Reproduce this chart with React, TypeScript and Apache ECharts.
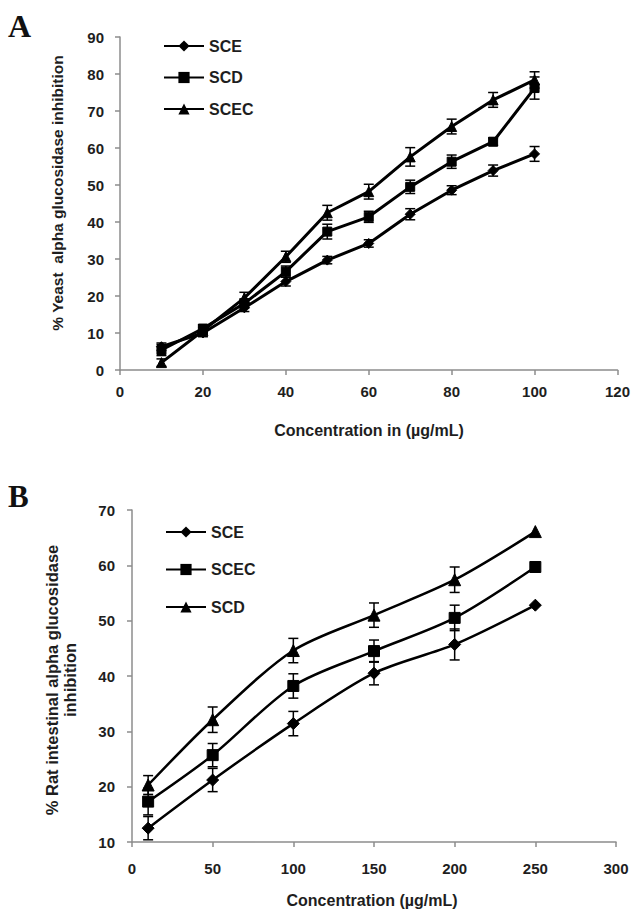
import React, { useEffect, useRef } from "react";
import * as echarts from "echarts";

// Panel A
const xA = [10, 20, 30, 40, 50, 60, 70, 80, 90, 100];
const aSCE = [6.3, 10.0, 16.8, 23.9, 29.7, 34.2, 42.1, 48.6, 53.9, 58.4];
const aSCD = [5.4, 11.2, 18.0, 26.6, 37.4, 41.4, 49.5, 56.3, 61.7, 76.2];
const aSCEC = [2.0, 10.6, 19.5, 30.6, 42.5, 48.2, 57.6, 65.8, 73.0, 78.4];
const aSCEErr = [1.0, 1.0, 1.0, 1.2, 1.0, 1.0, 1.5, 1.2, 1.5, 2.0];
const aSCDErr = [1.5, 1.0, 1.2, 1.5, 2.0, 1.5, 1.8, 1.8, 1.0, 3.0];
const aSCECErr = [1.0, 1.0, 1.5, 1.5, 2.0, 2.0, 2.5, 2.0, 2.0, 2.2];

// Panel B
const xB = [10, 50, 100, 150, 200, 250];
const bSCE = [12.5, 21.2, 31.4, 40.5, 45.7, 52.8];
const bSCEC = [17.3, 25.7, 38.2, 44.5, 50.5, 59.7];
const bSCD = [20.3, 32.1, 44.6, 51.0, 57.4, 66.1];
const bSCEErr = [2.1, 2.1, 2.2, 2.1, 2.8, 0];
const bSCECErr = [2.4, 2.1, 2.2, 2.0, 2.3, 0];
const bSCDErr = [1.7, 2.3, 2.2, 2.2, 2.3, 0];

const FONT = "'Liberation Sans', Arial, sans-serif";
const AXIS_COLOR = "#8c8c8c";
const TEXT_COLOR = "#1e1e1e";

function pts(xs: number[], ys: number[]) {
  return xs.map((x, i) => [x, ys[i]]);
}
function errs(xs: number[], ys: number[], es: number[]) {
  return xs.map((x, i) => [x, ys[i] - es[i], ys[i] + es[i]]);
}

function errorSeries(name: string, data: number[][], gi: number) {
  return {
    type: "custom",
    name,
    xAxisIndex: gi,
    yAxisIndex: gi,
    encode: { x: 0, y: [1, 2] },
    z: 3,
    data,
    renderItem: (params: any, api: any) => {
      const x = api.value(0);
      const lo = api.value(1);
      const hi = api.value(2);
      if (hi - lo < 0.01) return null;
      const p1 = api.coord([x, lo]);
      const p2 = api.coord([x, hi]);
      const w = 5;
      const st = { stroke: "#000", lineWidth: 1.5 };
      return {
        type: "group",
        children: [
          { type: "line", shape: { x1: p1[0], y1: p1[1], x2: p2[0], y2: p2[1] }, style: st },
          { type: "line", shape: { x1: p1[0] - w, y1: p1[1], x2: p1[0] + w, y2: p1[1] }, style: st },
          { type: "line", shape: { x1: p2[0] - w, y1: p2[1], x2: p2[0] + w, y2: p2[1] }, style: st },
        ],
      };
    },
  };
}

function lineSeries(name: string, data: number[][], gi: number, symbol: string, size: number, smooth: any, width: number) {
  return {
    type: "line",
    name,
    xAxisIndex: gi,
    yAxisIndex: gi,
    data,
    symbol,
    symbolSize: size,
    smooth,
    z: 4,
    lineStyle: { color: "#000", width },
    itemStyle: { color: "#000", borderColor: "#000" },
  };
}

function valueAxis(gi: number, min: number, max: number, interval: number, margin: number) {
  return {
    type: "value",
    gridIndex: gi,
    min,
    max,
    interval,
    axisLine: { show: true, lineStyle: { color: AXIS_COLOR, width: 1.5 } },
    axisTick: { show: true, length: 5, lineStyle: { color: AXIS_COLOR, width: 1.5 } },
    splitLine: { show: false },
    axisLabel: { fontSize: 15, fontWeight: "bold", color: TEXT_COLOR, fontFamily: FONT, margin },
  };
}

export default function App() {
  const ref = useRef<HTMLDivElement>(null);
  useEffect(() => {
    if (!ref.current) return;
    const chart = echarts.init(ref.current, undefined, { renderer: "svg" });
    const option: any = {
      animation: false,
      backgroundColor: "#fff",
      grid: [
        { left: 120, right: 13, top: 37, bottom: 547 },
        { left: 132, right: 17, top: 510, bottom: 75 },
      ],
      xAxis: [valueAxis(0, 0, 120, 20, 14), valueAxis(1, 0, 300, 50, 19)],
      yAxis: [valueAxis(0, 0, 90, 10, 16), valueAxis(1, 10, 70, 10, 17)],
      legend: [
        {
          orient: "vertical",
          left: 163,
          top: 38,
          padding: 0,
          itemWidth: 40,
          itemHeight: 14,
          itemGap: 15.5,
          data: ["SCE", "SCD", "SCEC"],
          textStyle: { fontSize: 16, fontWeight: "bold", color: TEXT_COLOR, fontFamily: FONT },
        },
        {
          orient: "vertical",
          left: 165,
          top: 524,
          padding: 0,
          itemWidth: 40,
          itemHeight: 14,
          itemGap: 21.5,
          data: ["SCE ", "SCEC ", "SCD "],
          textStyle: { fontSize: 16, fontWeight: "bold", color: TEXT_COLOR, fontFamily: FONT },
        },
      ],
      series: [
        errorSeries("eA1", errs(xA, aSCE, aSCEErr), 0),
        errorSeries("eA2", errs(xA, aSCD, aSCDErr), 0),
        errorSeries("eA3", errs(xA, aSCEC, aSCECErr), 0),
        lineSeries("SCE", pts(xA, aSCE), 0, "diamond", 10, false, 3),
        lineSeries("SCD", pts(xA, aSCD), 0, "rect", 9, false, 3),
        lineSeries("SCEC", pts(xA, aSCEC), 0, "triangle", 10, false, 3),
        errorSeries("eB1", errs(xB, bSCE, bSCEErr), 1),
        errorSeries("eB2", errs(xB, bSCEC, bSCECErr), 1),
        errorSeries("eB3", errs(xB, bSCD, bSCDErr), 1),
        lineSeries("SCE ", pts(xB, bSCE), 1, "diamond", 12, 0.3, 2.5),
        lineSeries("SCEC ", pts(xB, bSCEC), 1, "rect", 11, 0.3, 2.5),
        lineSeries("SCD ", pts(xB, bSCD), 1, "triangle", 12, 0.3, 2.5),
      ],
      graphic: [
        {
          type: "text",
          left: 8,
          top: 10,
          style: { text: "A", fontSize: 32, fontWeight: "bold", fontFamily: "'Liberation Serif', 'Times New Roman', serif", fill: "#111" },
        },
        {
          type: "text",
          left: 8,
          top: 481,
          style: { text: "B", fontSize: 31, fontWeight: "bold", fontFamily: "'Liberation Serif', 'Times New Roman', serif", fill: "#111" },
        },
        {
          type: "text",
          x: 57,
          y: 193,
          rotation: Math.PI / 2,
          style: {
            text: "% Yeast  alpha glucosidase inhibition",
            x: 0,
            y: 0,
            textAlign: "center",
            textVerticalAlign: "middle",
            fontSize: 15.5,
            fontWeight: "bold",
            fontFamily: FONT,
            fill: TEXT_COLOR,
          },
        },
        {
          type: "text",
          x: 369,
          y: 430,
          style: {
            text: "Concentration in (µg/mL)",
            x: 0,
            y: 0,
            textAlign: "center",
            textVerticalAlign: "middle",
            fontSize: 16,
            fontWeight: "bold",
            fontFamily: FONT,
            fill: TEXT_COLOR,
          },
        },
        {
          type: "text",
          x: 61,
          y: 680,
          rotation: Math.PI / 2,
          style: {
            text: "% Rat intestinal alpha glucosidase\ninhibition",
            x: 0,
            y: 0,
            textAlign: "center",
            textVerticalAlign: "middle",
            lineHeight: 18,
            fontSize: 16.5,
            fontWeight: "bold",
            fontFamily: FONT,
            fill: TEXT_COLOR,
          },
        },
        {
          type: "text",
          x: 372,
          y: 900,
          style: {
            text: "Concentration (µg/mL)",
            x: 0,
            y: 0,
            textAlign: "center",
            textVerticalAlign: "middle",
            fontSize: 16,
            fontWeight: "bold",
            fontFamily: FONT,
            fill: TEXT_COLOR,
          },
        },
      ],
    };
    chart.setOption(option);
    return () => chart.dispose();
  }, []);
  return (
    <div
      ref={ref}
      style={{ position: "absolute", left: 0, top: 0, width: 633, height: 917, background: "#fff" }}
    />
  );
}
